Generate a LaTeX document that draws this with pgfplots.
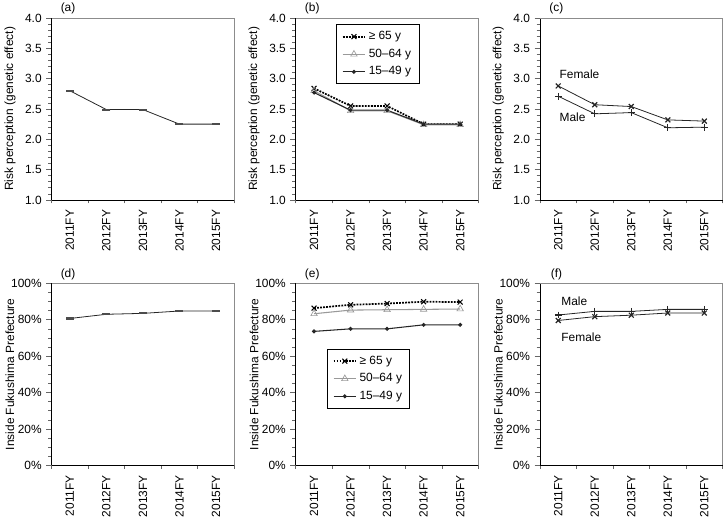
\documentclass[border=0pt]{standalone}
\usepackage{fontspec}
\setmainfont{Liberation Sans}
\usepackage{pgfplots}
\pgfplotsset{compat=1.18}
\usepgfplotslibrary{groupplots}

\newcommand{\tf}{\fontsize{9}{11}\selectfont}

\pgfplotsset{
  panel/.style={
    scale only axis, width=138pt, height=137.5pt, clip=false,
    axis x line*=bottom, axis y line*=left,
    axis line style={black, line width=0.6pt},
    xmin=0.5, xmax=5.5,
    xtick={1,...,5},
    xticklabels={2011FY,2012FY,2013FY,2014FY,2015FY},
    minor xtick={0.5,1.5,...,5.5},
    major x tick style={draw=none},
    tick style={black!60, line width=0.5pt},
    tick align=outside,
    major tick length=4pt, minor tick length=2.6pt,
    xticklabel style={rotate=90, anchor=east, font=\tf},
    yticklabel style={font=\tf},
    /pgf/number format/assume math mode=true,
    every axis y label/.style={at={(rel axis cs:-0.228,0.5)}, rotate=90, anchor=center, font=\fontsize{9}{11}\selectfont},
    legend style={draw=black, line width=0.8pt, fill=white, font=\tf,
      anchor=north west, inner xsep=4pt, inner ysep=3pt, row sep=1.5pt},
    legend cell align=left,
  },
  top/.style={ymin=1, ymax=4, ytick={1,1.5,...,4}, minor y tick num=4,
    yticklabel style={/pgf/number format/.cd, fixed, fixed zerofill, precision=1},
    ylabel={Risk perception (genetic effect)}},
  bot/.style={ymin=0, ymax=100, ytick={0,20,...,100}, minor y tick num=3,
    yticklabel={\pgfmathprintnumber{\tick}\%},
    ylabel={Inside Fukushima Prefecture}},
  one/.style={black!85, line width=0.6pt, mark=-, mark size=3pt, mark options={line width=1.6pt, black!70}},
  old/.style={black, line width=1.3pt, dash pattern=on 1.4pt off 0.9pt, mark=x, mark size=2.6pt, mark options={solid, line width=0.8pt}},
  mid/.style={black!40, line width=0.8pt, mark=triangle, mark size=2.8pt, mark options={solid, fill=white, line width=0.5pt}},
  yng/.style={black!85, line width=0.8pt, mark=*, mark size=1.1pt},
  fem/.style={black!85, line width=0.6pt, mark=x, mark size=2.6pt, mark options={line width=0.9pt}},
  mal/.style={black!85, line width=0.6pt, mark=+, mark size=2.6pt, mark options={line width=0.9pt}},
}

\newcommand{\boxtr}{\draw[black!45, line width=0.6pt] (rel axis cs:0,1) -- (rel axis cs:1,1) -- (rel axis cs:1,0);}
% panel letter above the top left of the axis
\newcommand{\plab}[2]{\node[font=\tf, anchor=south, inner sep=2.5pt] at (axis cs:0.95,#2) {#1};}

\begin{document}
\begin{tikzpicture}
\begin{groupplot}[
  group style={group size=3 by 2, horizontal sep=46.5pt, vertical sep=63pt},
  panel,
]
% (a)
\nextgroupplot[top]
\addplot[one] coordinates {(1,2.80)(2,2.49)(3,2.49)(4,2.25)(5,2.25)};
\boxtr \plab{(a)}{4}

% (b)
\nextgroupplot[top, legend style={at={(0.22,0.965)}}]
\addplot[old] coordinates {(1,2.84)(2,2.55)(3,2.55)(4,2.25)(5,2.25)};
\addlegendentry{≥ 65 y}
\addplot[mid] coordinates {(1,2.80)(2,2.47)(3,2.47)(4,2.24)(5,2.24)};
\addlegendentry{50–64 y}
\addplot[yng] coordinates {(1,2.77)(2,2.48)(3,2.48)(4,2.25)(5,2.25)};
\addlegendentry{15–49 y}
\boxtr \plab{(b)}{4}

% (c)
\nextgroupplot[top]
\addplot[fem] coordinates {(1,2.88)(2,2.57)(3,2.54)(4,2.32)(5,2.30)};
\addplot[mal] coordinates {(1,2.71)(2,2.42)(3,2.44)(4,2.19)(5,2.20)};
\node[font=\tf, anchor=west] at (axis cs:0.91,3.08) {Female};
\node[font=\tf, anchor=west] at (axis cs:0.91,2.36) {Male};
\boxtr \plab{(c)}{4}

% (d)
\nextgroupplot[bot]
\addplot[one] coordinates {(1,80.7)(2,83.0)(3,83.5)(4,84.8)(5,84.8)};
\boxtr \plab{(d)}{100}

% (e)
\nextgroupplot[bot, legend style={at={(0.17,0.64)}}]
\addplot[old] coordinates {(1,86.4)(2,88.2)(3,88.9)(4,89.9)(5,89.7)};
\addlegendentry{≥ 65 y}
\addplot[mid] coordinates {(1,83.3)(2,85.3)(3,85.5)(4,85.7)(5,85.9)};
\addlegendentry{50–64 y}
\addplot[yng] coordinates {(1,73.6)(2,75.0)(3,75.0)(4,77.2)(5,77.2)};
\addlegendentry{15–49 y}
\boxtr \plab{(e)}{100}

% (f)
\nextgroupplot[bot]
\addplot[mal] coordinates {(1,82.6)(2,84.6)(3,84.6)(4,85.7)(5,85.7)};
\addplot[fem] coordinates {(1,79.6)(2,81.7)(3,82.5)(4,83.7)(5,83.7)};
\node[font=\tf, anchor=west] at (axis cs:0.96,90.0) {Male};
\node[font=\tf, anchor=west] at (axis cs:0.96,70.2) {Female};
\boxtr \plab{(f)}{100}
\end{groupplot}
\end{tikzpicture}
\end{document}
